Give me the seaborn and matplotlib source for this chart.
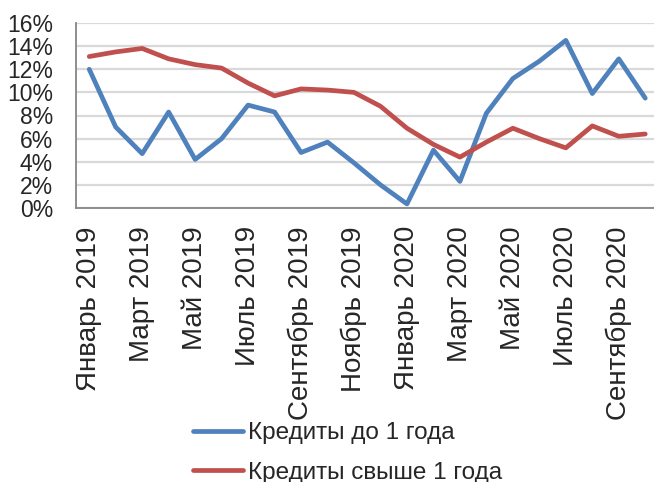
import pandas as pd
import numpy as np
import matplotlib
matplotlib.use('Agg')
from matplotlib import pyplot as plt
from matplotlib.ticker import FixedLocator, PercentFormatter
import seaborn as sns

# monthly data, Jan 2019 - Oct 2020 (percent)
months = ['Январь 2019', 'Февраль 2019', 'Март 2019', 'Апрель 2019', 'Май 2019', 'Июнь 2019',
          'Июль 2019', 'Август 2019', 'Сентябрь 2019', 'Октябрь 2019', 'Ноябрь 2019', 'Декабрь 2019',
          'Январь 2020', 'Февраль 2020', 'Март 2020', 'Апрель 2020', 'Май 2020', 'Июнь 2020',
          'Июль 2020', 'Август 2020', 'Сентябрь 2020', 'Октябрь 2020']
short_loans = [12.0, 7.0, 4.7, 8.3, 4.2, 6.0, 8.9, 8.3, 4.8, 5.7, 3.9, 2.0,
               0.35, 5.0, 2.3, 8.2, 11.2, 12.7, 14.5, 9.9, 12.9, 9.5]
long_loans = [13.1, 13.5, 13.8, 12.9, 12.4, 12.1, 10.8, 9.7, 10.3, 10.2, 10.0, 8.8,
              6.9, 5.5, 4.4, 5.7, 6.9, 6.0, 5.2, 7.1, 6.2, 6.4]
series_names = ['Кредиты до 1 года', 'Кредиты свыше 1 года']
colors = ['#4F81BD', '#C0504D']

df = pd.DataFrame({
    'idx': list(range(len(months))) * 2,
    'value': short_loans + long_loans,
    'series': [series_names[0]] * len(months) + [series_names[1]] * len(months),
})

sns.set_style('white')
plt.rcParams['font.family'] = ['Liberation Sans', 'DejaVu Sans']

fig = plt.figure(figsize=(6.54, 4.82), dpi=100)
W, H = 654, 482
ax = fig.add_axes([76 / W, 1 - 208 / H, (658.5 - 76) / W, 185 / H])

sns.lineplot(data=df, x='idx', y='value', hue='series', palette=colors,
             linewidth=3.4, sort=False, ax=ax, legend=True)

ax.set_xlim(-0.5, len(months) - 0.5)
ax.set_ylim(0, 16)
ax.yaxis.set_major_locator(FixedLocator(np.arange(0, 17, 2)))
ax.yaxis.set_major_formatter(PercentFormatter(decimals=0))
ax.grid(axis='y', color='#d9d9d9', linewidth=1.6)
ax.set_axisbelow(True)

# labels at every other month, tick marks on category boundaries
label_pos = list(range(0, len(months), 2))
ax.xaxis.set_major_locator(FixedLocator(label_pos))
ax.set_xticklabels([months[i] for i in label_pos], rotation=90, va='top', ha='center')
ax.xaxis.set_minor_locator(FixedLocator(np.arange(-0.5, len(months), 2)))
ax.tick_params(axis='x', which='major', length=0, pad=13, labelsize=20)
ax.tick_params(axis='x', which='minor', length=5.5, width=1.3, color='#868686', direction='out')
ax.tick_params(axis='y', length=5.5, width=1.3, color='#868686', direction='out', pad=11, labelsize=16.5)

for side in ['top', 'right']:
    ax.spines[side].set_visible(False)
for side in ['left', 'bottom']:
    ax.spines[side].set_color('#868686')
    ax.spines[side].set_linewidth(1.3)

ax.set_xlabel('')
ax.set_ylabel('')

handles, labels = ax.get_legend_handles_labels()
ax.legend(handles, labels, loc='upper left', bbox_to_anchor=(193 / W, 1 - 422 / H),
          bbox_transform=fig.transFigure, frameon=False, fontsize=17.5,
          handlelength=2.05, handletextpad=0.2, labelspacing=0.72,
          borderaxespad=0, borderpad=0)

fig.savefig('out.png', dpi=100)
plt.close(fig)
